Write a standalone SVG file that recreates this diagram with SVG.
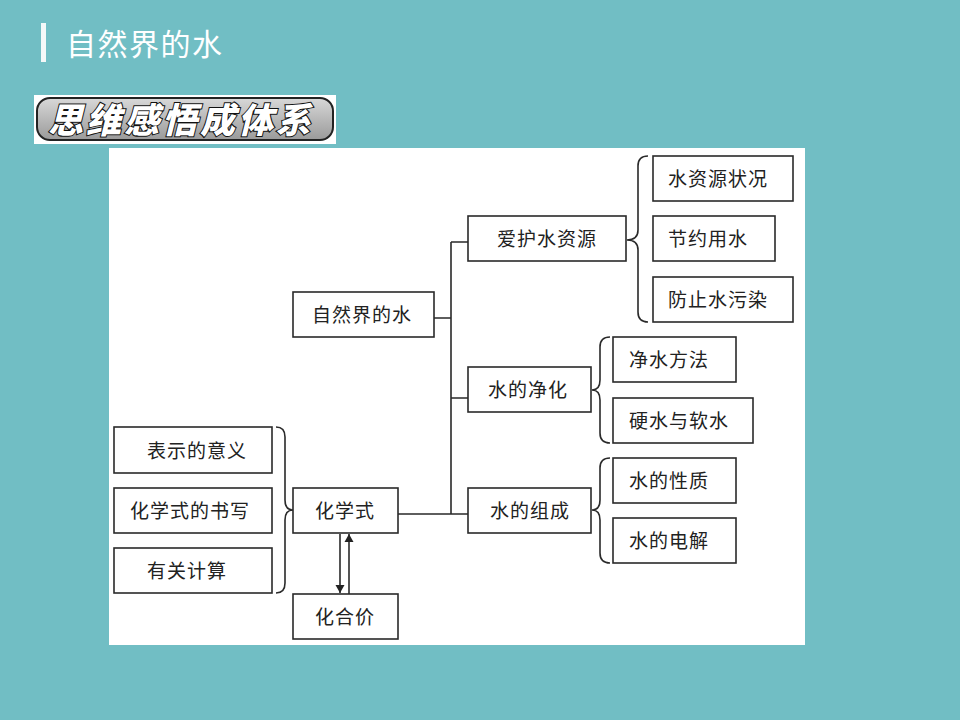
<svg xmlns="http://www.w3.org/2000/svg" width="960" height="720" viewBox="0 0 960 720">
<defs>
<style>
.box{fill:#fff;stroke:#2a2a2a;stroke-width:1.6}
.t{font-family:"Liberation Serif","Noto Sans CJK SC",serif;font-size:19px;letter-spacing:1px;fill:#222}
.ln{fill:none;stroke:#2a2a2a;stroke-width:1.6}
</style>
<linearGradient id="pill" x1="0" y1="0" x2="0" y2="1">
<stop offset="0" stop-color="#d8d8d8"/>
<stop offset="1" stop-color="#9a9a9a"/>
</linearGradient>
<marker id="ah" viewBox="0 0 8 12" refX="8" refY="6" markerWidth="8" markerHeight="12" markerUnits="userSpaceOnUse" orient="auto">
<path d="M0,1.5 L8,6 L0,10.5 Z" fill="#222"/>
</marker>
</defs>
<rect width="960" height="720" fill="#71BEC4"/>
<rect x="41" y="23" width="5" height="39" fill="#f4f8f8"/>
<text x="66" y="55" font-family="'Noto Sans CJK SC',sans-serif" font-size="30" letter-spacing="1.5" fill="#fff">自然界的水</text>
<g id="banner">
<rect x="34" y="95" width="302" height="49" fill="#fff"/>
<rect x="37" y="98" width="296" height="42" rx="13" fill="url(#pill)" stroke="#222" stroke-width="2"/>
<text transform="translate(48,133) skewX(-14)" font-family="'Noto Sans CJK SC',sans-serif" font-weight="900" font-size="35" letter-spacing="3" fill="#fff" stroke="#111" stroke-width="2" paint-order="stroke">思维感悟成体系</text>
</g>
<rect x="109" y="148" width="696" height="497" fill="#fff"/>
<g id="connectors">
<path class="ln" d="M434,318 H451 M451,242 V514 M451,242 H468 M451,398 H468 M451,514 H468 M398,514 H451"/>
<path class="ln" d="M648,156 Q638,156 638,166 L638,230 Q638,240 627,240 Q638,240 638,250 L638,312 Q638,322 648,322"/>
<path class="ln" d="M610,337 Q600,337 600,347 L600,380 Q600,390 592,390 Q600,390 600,400 L600,433 Q600,443 610,443"/>
<path class="ln" d="M610,458 Q600,458 600,468 L600,500 Q600,510 592,510 Q600,510 600,520 L600,553 Q600,563 610,563"/>
<path class="ln" d="M276,427 Q285,427 285,437 L285,500 Q285,510 293,510 Q285,510 285,520 L285,583 Q285,593 276,593"/>
<line class="ln" x1="340" y1="534" x2="340" y2="593" marker-end="url(#ah)"/>
<line class="ln" x1="349" y1="594" x2="349" y2="534" stroke-width="2" marker-end="url(#ah)"/>
</g>
<g id="n-zrj"><rect class="box" x="293" y="292" width="141" height="45"/><text class="t" x="312" y="322">自然界的水</text></g>
<g id="n-ahsz"><rect class="box" x="468" y="216" width="158" height="45"/><text class="t" x="497" y="246">爱护水资源</text></g>
<g id="n-szyzk"><rect class="box" x="653" y="156" width="140" height="45"/><text class="t" x="668" y="186">水资源状况</text></g>
<g id="n-jyys"><rect class="box" x="653" y="216" width="122" height="45"/><text class="t" x="668" y="246">节约用水</text></g>
<g id="n-fzswr"><rect class="box" x="653" y="277" width="140" height="45"/><text class="t" x="668" y="307">防止水污染</text></g>
<g id="n-sdjh"><rect class="box" x="468" y="367" width="123" height="45"/><text class="t" x="488" y="397">水的净化</text></g>
<g id="n-jsff"><rect class="box" x="613" y="337" width="123" height="45"/><text class="t" x="629" y="367">净水方法</text></g>
<g id="n-ysyrs"><rect class="box" x="613" y="398" width="140" height="45"/><text class="t" x="629" y="428">硬水与软水</text></g>
<g id="n-sdzc"><rect class="box" x="468" y="488" width="123" height="45"/><text class="t" x="490" y="518">水的组成</text></g>
<g id="n-sdxz"><rect class="box" x="613" y="458" width="123" height="45"/><text class="t" x="629" y="488">水的性质</text></g>
<g id="n-sddj"><rect class="box" x="613" y="518" width="123" height="45"/><text class="t" x="629" y="548">水的电解</text></g>
<g id="n-bsdyy"><rect class="box" x="114" y="427" width="158" height="46"/><text class="t" x="147" y="458">表示的意义</text></g>
<g id="n-hxsdsx"><rect class="box" x="114" y="488" width="158" height="45"/><text class="t" x="130" y="518">化学式的书写</text></g>
<g id="n-ygjs"><rect class="box" x="114" y="548" width="158" height="45"/><text class="t" x="147" y="578">有关计算</text></g>
<g id="n-hxs"><rect class="box" x="293" y="488" width="105" height="45"/><text class="t" x="315" y="518">化学式</text></g>
<g id="n-hhj"><rect class="box" x="293" y="594" width="105" height="45"/><text class="t" x="315" y="624">化合价</text></g>
</svg>
